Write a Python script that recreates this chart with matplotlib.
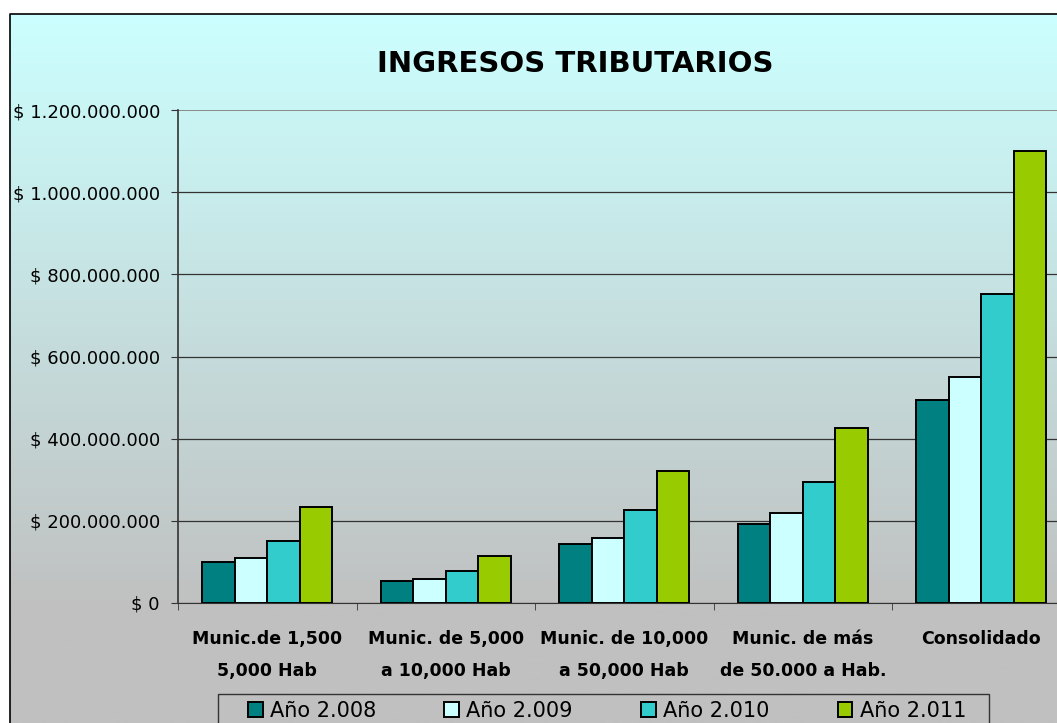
import numpy as np
import matplotlib
matplotlib.use("Agg")
import matplotlib.pyplot as plt
from matplotlib.patches import Rectangle
from matplotlib.ticker import FuncFormatter, FixedLocator

categories = ["Munic.de 1,500\n5,000 Hab",
              "Munic. de 5,000\na 10,000 Hab",
              "Munic. de 10,000\na 50,000 Hab",
              "Munic. de más\nde 50.000 a Hab.",
              "Consolidado"]
series_names = ["Año 2.008", "Año 2.009", "Año 2.010", "Año 2.011"]
anio_2008 = [100e6, 54e6, 144e6, 192e6, 494e6]
anio_2009 = [110e6, 59e6, 158e6, 220e6, 551e6]
anio_2010 = [151e6, 78e6, 227e6, 294e6, 751e6]
anio_2011 = [233e6, 114e6, 322e6, 425e6, 1099e6]
colors = ["#008080", "#CCFFFF", "#33CCCC", "#99CC00"]
y_ticks = [0, 200e6, 400e6, 600e6, 800e6, 1000e6, 1200e6]

W, H = 1057, 723
fig = plt.figure(figsize=(W / 100, H / 100), dpi=100)
fig.patch.set_facecolor("white")

# gradient background for the chart area (pixel coords)
bg = fig.add_axes([0, 0, 1, 1], zorder=0)
bg.set_xlim(0, W)
bg.set_ylim(H, 0)
bg.axis("off")
top_col = np.array([204, 255, 255]) / 255
bot_col = np.array([192, 192, 192]) / 255
ys = np.linspace(14, H, 300)
t = np.clip((ys - 14) / (610 - 14), 0, 1)[:, None]
grad = top_col * (1 - t) + bot_col * t
bg.imshow(grad[:, None, :], extent=[9.5, W + 5, H, 14], aspect="auto")
bg.plot([9.5, 9.5, W + 5], [H + 5, 14, 14], color="black", lw=1.2)
# legend box
bg.add_patch(Rectangle((218, 694), 989 - 218, 40, fill=False, edgecolor="#333333", lw=1.0))

left, right = 178, 178 + 5 * 178.5
bottom, top = 603, 110
ax = fig.add_axes([left / W, 1 - bottom / H, (right - left) / W, (bottom - top) / H], zorder=1)
ax.patch.set_alpha(0)

x = np.arange(len(categories))
bw = 0.182
all_series = [anio_2008, anio_2009, anio_2010, anio_2011]
for i, (vals, c, name) in enumerate(zip(all_series, colors, series_names)):
    ax.bar(x + (i - 1.5) * bw, vals, width=bw, color=c, edgecolor="black",
           linewidth=1.4, label=name, zorder=3)

ax.set_xlim(-0.5, 4.5)
ax.set_ylim(0, 1.2e9)
ax.set_yticks(y_ticks)
ax.yaxis.set_major_formatter(FuncFormatter(lambda v, p: "$ " + f"{int(v):,}".replace(",", ".")))
ax.grid(axis="y", color="#333333", lw=0.9, zorder=1)
ax.get_ygridlines()[-1].set_color("#8a8a8a")
ax.get_ygridlines()[-1].set_linewidth(1.4)

ax.set_xticks(x)
ax.set_xticklabels(categories, fontsize=12.5, fontweight="bold", linespacing=2.0)
ax.xaxis.set_minor_locator(FixedLocator(np.arange(-0.5, 5, 1)))
ax.tick_params(axis="x", which="major", length=0, pad=19.5)
ax.tick_params(axis="x", which="minor", length=5, direction="out", color="#333333")
ax.tick_params(axis="y", length=5, direction="out", labelsize=13, pad=8, color="#333333")
for lbl in ax.get_xticklabels():
    lbl.set_verticalalignment("top")

for s in ["top", "right"]:
    ax.spines[s].set_visible(False)
ax.spines["left"].set_color("#333333")
ax.spines["bottom"].set_color("#333333")
ax.spines["left"].set_linewidth(1.2)

fig.text(575 / W, 1 - 64 / H, "INGRESOS TRIBUTARIOS", ha="center", va="center",
         fontsize=21, fontweight="bold")

handles, labels = ax.get_legend_handles_labels()
leg = fig.legend(handles, labels, loc="upper left",
                 bbox_to_anchor=(248 / W, 1 - 708 / H, (966 - 248) / W, 0.01),
                 mode="expand", ncol=4, fontsize=15, frameon=False, borderaxespad=0,
                 handlelength=0.7, handleheight=0.7, handletextpad=0.35, borderpad=0)

fig.savefig("out.png", dpi=100)
